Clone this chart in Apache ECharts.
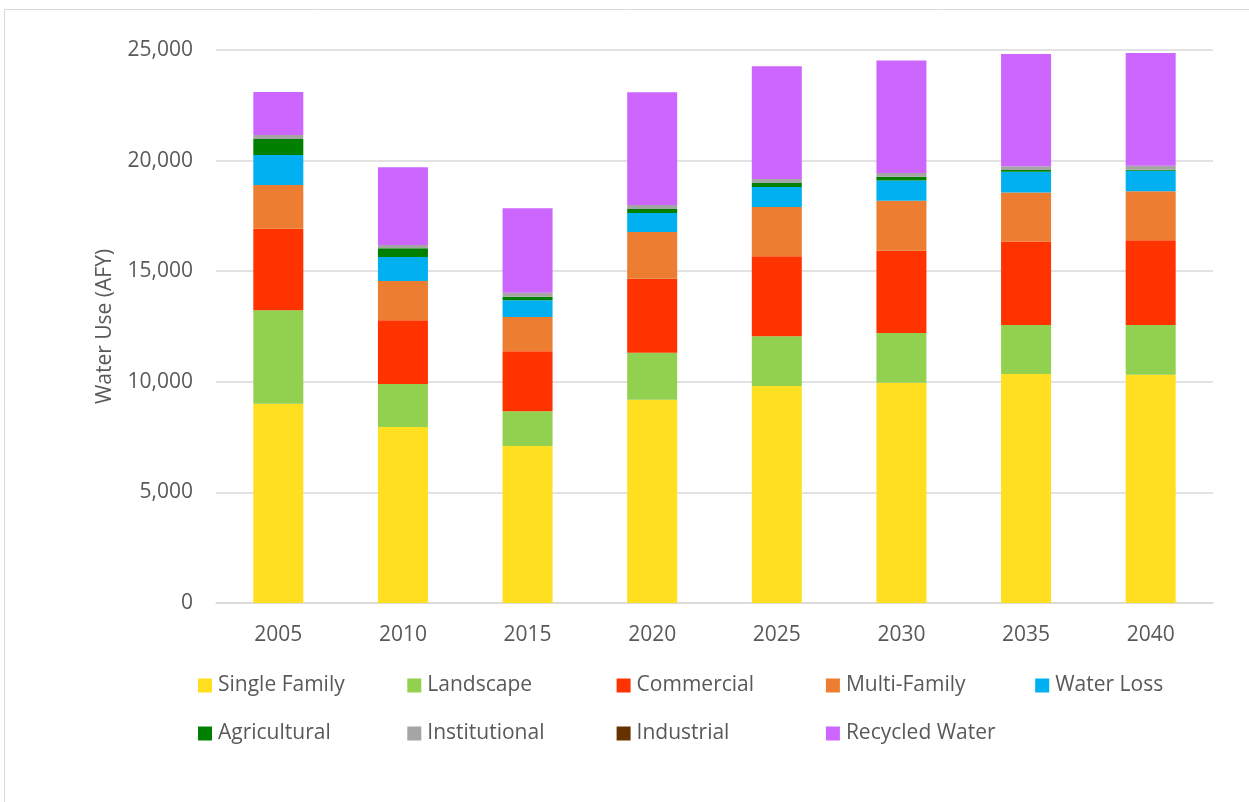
<!DOCTYPE html>
<html>
<head>
<meta charset="utf-8">
<script src="https://cdn.jsdelivr.net/npm/echarts@6/dist/echarts.min.js"></script>
<style>
html,body{margin:0;padding:0;background:#fff;}
#chart{width:1249px;height:802px;}
</style>
</head>
<body>
<div id="chart"></div>
<script>
var years = ['2005','2010','2015','2020','2025','2030','2035','2040'];
var seriesNames = ['Single Family','Landscape','Commercial','Multi-Family','Water Loss','Agricultural','Institutional','Industrial','Recycled Water'];
var singleFamily  = [9010, 7960, 7100, 9190, 9810, 9960, 10350, 10320];
var landscape     = [4220, 1940, 1570, 2120, 2250, 2245, 2215, 2245];
var commercial    = [3690, 2880, 2710, 3350, 3615, 3720, 3780, 3830];
var multiFamily   = [1975, 1780, 1550, 2110, 2230, 2260, 2215, 2215];
var waterLoss     = [1355, 1085, 755, 860, 905, 920, 935, 935];
var agricultural  = [725, 390, 165, 180, 180, 165, 75, 45];
var institutional = [180, 150, 180, 180, 180, 165, 180, 180];
var industrial    = [0, 0, 0, 0, 0, 0, 0, 0];
var recycledWater = [1945, 3515, 3815, 5095, 5095, 5095, 5065, 5095];
var yTicks = [0, 5000, 10000, 15000, 20000, 25000];

var values = [singleFamily, landscape, commercial, multiFamily, waterLoss, agricultural, institutional, industrial, recycledWater];
var colors = ['#FFDF1F','#92D050','#FF3300','#ED7D31','#00B0F0','#008000','#A5A5A5','#663300','#CC66FF'];
var FONT = 'Open Sans';

var chart = echarts.init(document.getElementById('chart'), null, {renderer:'canvas'});

var legends = seriesNames.map(function(name, i){
  var col = i % 5, row = Math.floor(i / 5);
  return {
    data: [name],
    left: 198 + col * 209.3,
    top: 675 + row * 48,
    padding: 0,
    itemWidth: 14,
    itemHeight: 14,
    itemGap: 6,
    icon: 'rect',
    selectedMode: false,
    textStyle: {fontFamily: FONT, fontSize: 21, color: '#595959', padding:[0,0,0,1]}
  };
});

var option = {
  backgroundColor: '#fff',
  animation: false,
  color: colors,
  grid: {left: 216, right: 36, top: 50, bottom: 199, containLabel: false},
  legend: legends,
  graphic: [{
    type: 'rect', shape: {x: 4.5, y: 9.5, width: 1400, height: 1000},
    style: {fill: 'none', stroke: '#d9d9d9', lineWidth: 1}, silent: true
  }],
  xAxis: {
    type: 'category',
    data: years,
    axisTick: {show: false},
    axisLine: {show: true, lineStyle: {color: '#d9d9d9', width: 1.5}},
    axisLabel: {fontFamily: FONT, fontSize: 21, color: '#595959', margin: 22}
  },
  yAxis: {
    type: 'value',
    min: yTicks[0], max: yTicks[yTicks.length-1], interval: yTicks[1]-yTicks[0],
    name: 'Water Use (AFY)',
    nameLocation: 'middle',
    nameGap: 100,
    nameTextStyle: {fontFamily: FONT, fontSize: 21, color: '#595959'},
    axisLine: {show: false},
    axisTick: {show: false},
    splitLine: {lineStyle: {color: '#d9d9d9', width: 1.5}},
    axisLabel: {
      fontFamily: FONT, fontSize: 21, color: '#595959', margin: 23,
      formatter: function(v){ return v.toLocaleString('en-US'); }
    }
  },
  series: seriesNames.map(function(name, i){
    return {
      name: name, type: 'bar', stack: 'total', barWidth: 50,
      data: values[i],
      itemStyle: {color: colors[i]}
    };
  })
};
chart.setOption(option);
</script>
</body>
</html>
